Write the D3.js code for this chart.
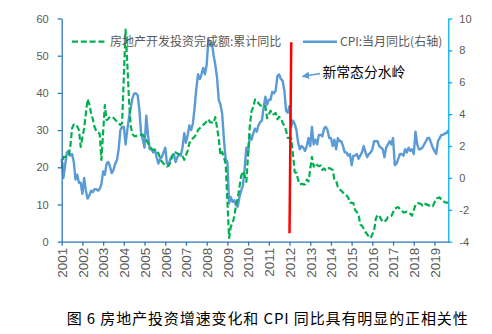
<!DOCTYPE html>
<html>
<head>
<meta charset="utf-8">
<script src="https://cdn.jsdelivr.net/npm/d3@7"></script>
<style>
  html, body { margin: 0; padding: 0; background: #fff; }
  svg { display: block; }
</style>
</head>
<body>
<svg id="chart" width="492" height="334"></svg>
<script>
// ---------- data ----------
const years = [2001,2002,2003,2004,2005,2006,2007,2008,2009,2010,2011,2012,2013,2014,2015,2016,2017,2018,2019];
const leftTicks = [0,10,20,30,40,50,60];
const rightTicks = [-4,-2,0,2,4,6,8,10];

// CPI: month-on-year-ago, Jan 2001 .. Sep 2019 (right axis)
const cpi = [
  1.2, 0.0, 0.8, 1.6, 1.7, 1.4, 1.5, 1.0,-0.1, 0.2,-0.3,-0.3,
 -1.0, 0.0,-0.8,-1.3,-1.1,-0.8,-0.9,-0.7,-0.7,-0.8,-0.7,-0.4,
  0.4, 0.2, 0.9, 1.0, 0.7, 0.3, 0.5, 0.9, 1.1, 1.8, 3.0, 3.2,
  3.2, 2.1, 3.0, 3.8, 4.4, 5.0, 5.3, 5.3, 5.2, 4.3, 2.8, 2.4,
  1.9, 3.9, 2.7, 1.8, 1.8, 1.6, 1.8, 1.3, 0.9, 1.2, 1.3, 1.6,
  1.9, 0.9, 0.8, 1.2, 1.4, 1.5, 1.0, 1.3, 1.5, 1.4, 1.9, 2.8,
  2.2, 2.7, 3.3, 3.0, 3.4, 4.4, 5.6, 6.5, 6.2, 6.5, 6.9, 6.5,
  7.1, 8.7, 8.3, 8.5, 7.7, 7.1, 6.3, 4.9, 4.6, 4.0, 2.4, 1.2,
  1.0,-1.6,-1.2,-1.5,-1.4,-1.7,-1.8,-1.2,-0.8,-0.5, 0.6, 1.9,
  1.5, 2.7, 2.4, 2.8, 3.1, 2.9, 3.3, 3.5, 3.6, 4.4, 5.1, 4.6,
  4.9, 4.9, 5.4, 5.3, 5.5, 6.4, 6.5, 6.2, 6.1, 5.5, 4.2, 4.1,
  4.5, 3.2, 3.6, 3.4, 3.0, 2.2, 1.8, 2.0, 1.9, 1.7, 2.0, 2.5,
  2.0, 3.2, 2.1, 2.4, 2.1, 2.7, 2.7, 2.6, 3.1, 3.2, 3.0, 2.5,
  2.5, 2.0, 2.4, 1.8, 2.5, 2.3, 2.3, 2.0, 1.6, 1.6, 1.4, 1.5,
  0.8, 1.4, 1.4, 1.5, 1.2, 1.4, 1.6, 2.0, 1.6, 1.3, 1.5, 1.6,
  1.8, 2.3, 2.3, 2.3, 2.0, 1.9, 1.8, 1.3, 1.9, 2.1, 2.3, 2.1,
  2.5, 0.8, 0.9, 1.2, 1.5, 1.5, 1.4, 1.8, 1.6, 1.9, 1.7, 1.8,
  1.5, 2.9, 2.1, 1.8, 1.8, 1.9, 2.1, 2.3, 2.5, 2.5, 2.2, 1.9,
  1.7, 1.5, 2.3, 2.5, 2.7, 2.7, 2.8, 2.8, 3.0
];

// Real-estate development investment, cumulative y/y (left axis); January not published
const reInvest = [
  19.7, 22.8, 22.8, 22.8, 23.0, 25.5, 30.5, 31.5, 31.6, 31.0, 30.0, 25.5,
  null, 30.5, 34.5, 38.3, 37.0, 34.6, 33.0, 30.9, 29.8, 29.3, 29.1, 22.0,
  null, 36.7, 32.7, 33.0, 33.6, 33.5, 33.3, 32.8, 32.3, 31.8, 31.4, 31.9,
  null, 57.0, 48.0, 38.0, 31.0, 29.0, 28.4, 28.4, 28.5, 28.5, 28.7, 28.8,
  null, 27.3, 26.5, 25.5, 25.0, 24.7, 24.5, 24.2, 23.8, 22.5, 21.5, 21.0,
  null, 20.2, 20.4, 21.5, 22.8, 24.1, 24.0, 23.7, 23.5, 23.3, 23.0, 22.0,
  null, 24.5, 26.5, 27.3, 27.8, 28.2, 29.0, 30.0, 30.5, 31.0, 31.4, 31.8,
  null, 32.9, 32.1, 32.1, 31.9, 33.5, 30.7, 27.7, 23.2, 24.1, 22.7, 20.9,
  null,  1.0,  4.1,  4.9,  6.8,  9.9, 11.6, 14.7, 17.7, 18.9, 17.8, 16.1,
  null, 31.1, 35.1, 36.2, 38.2, 38.1, 37.2, 36.7, 36.4, 36.5, 36.5, 33.2,
  null, 35.2, 34.1, 34.3, 34.6, 32.9, 33.6, 33.2, 32.0, 31.1, 29.9, 27.9,
  null, 27.8, 23.5, 18.7, 18.5, 16.6, 15.4, 15.6, 15.4, 15.4, 16.7, 16.2,
  null, 22.8, 20.2, 21.1, 20.6, 20.3, 20.5, 19.3, 19.7, 19.2, 19.5, 19.8,
  null, 19.3, 16.8, 16.4, 14.7, 14.1, 13.7, 13.2, 12.5, 12.4, 11.9, 10.5,
  null, 10.4,  8.5,  8.0,  7.2,  4.6,  4.3,  3.5,  2.6,  2.0,  1.3,  1.0,
  null,  3.0,  6.2,  7.2,  7.0,  6.1,  5.3,  5.4,  5.8,  6.6,  6.7,  6.9,
  null,  8.9,  9.1,  9.3,  8.8,  8.5,  7.9,  7.9,  8.1,  7.8,  7.5,  7.0,
  null,  9.9, 10.4, 10.3, 10.2,  9.7, 10.2, 10.1,  9.9,  9.7,  9.7,  9.5,
  null, 11.6, 11.8, 11.9, 11.2, 10.9, 10.6, 10.5, 10.5
];

const seriesNames = ["房地产开发投资完成额:累计同比", "CPI:当月同比(右轴)"];
const annotationText = "新常态分水岭";
const caption = "图 6 房地产投资增速变化和 CPI 同比具有明显的正相关性";
// red divider: [month index, left-axis value] at top and bottom
const dividerTop = [133, 53.6];
const dividerBottom = [132, 2.3];

// ---------- layout ----------
const svg = d3.select("#chart");
const X0 = 61.7, X1 = 448.3, Y0 = 241.7, Y1 = 18.5;
const nMonths = cpi.length; // 225
const x = d3.scaleLinear().domain([0, nMonths - 1]).range([X0, X1]);
const yL = d3.scaleLinear().domain([0, 60]).range([Y0, Y1]);
const yR = d3.scaleLinear().domain([-4, 10]).range([Y0, Y1]);

const numFont = "'Liberation Sans', Arial, sans-serif";
const cjkFont = "'Noto Sans CJK SC', 'Noto Sans', sans-serif";
const labelColor = "#595959";

// ---------- series ----------
const reData = reInvest.map((v, i) => ({i, v})).filter(d => d.v !== null);
const cpiData = cpi.map((v, i) => ({i, v}));

svg.append("path")
  .datum(cpiData)
  .attr("fill", "none")
  .attr("stroke", "#5b9bd5")
  .attr("stroke-width", 2.4)
  .attr("stroke-linejoin", "round")
  .attr("d", d3.line().x(d => x(d.i)).y(d => yR(d.v)));

svg.append("path")
  .datum(reData)
  .attr("fill", "none")
  .attr("stroke", "#00b050")
  .attr("stroke-width", 2.2)
  .attr("stroke-dasharray", "6,2.8")
  .attr("stroke-linejoin", "round")
  .attr("d", d3.line().x(d => x(d.i)).y(d => yL(d.v)));

// ---------- axes ----------
const gL = svg.append("g").attr("transform", `translate(${X0},0)`)
  .call(d3.axisLeft(yL).tickValues(leftTicks).tickSize(4).tickPadding(9).tickSizeOuter(0));
gL.select(".domain").attr("stroke", "#2e75b6").attr("stroke-width", 1.3);
gL.selectAll(".tick line").attr("stroke", "#2e75b6").attr("stroke-width", 1.3);
gL.selectAll(".tick text").attr("fill", labelColor).style("font-family", numFont).style("font-size", "11px");

const gR = svg.append("g").attr("transform", `translate(${X1},0)`)
  .call(d3.axisRight(yR).tickValues(rightTicks).tickSize(4).tickPadding(7).tickSizeOuter(0)
    .tickFormat(d => String(d)));
gR.select(".domain").attr("stroke", "#00b0f0").attr("stroke-width", 1.3);
gR.selectAll(".tick line").attr("stroke", "#00b0f0").attr("stroke-width", 1.3);
gR.selectAll(".tick text").attr("fill", labelColor).style("font-family", numFont).style("font-size", "11px");

const yearIdx = years.map((y, k) => k * 12);
const gB = svg.append("g").attr("transform", `translate(0,${Y0})`)
  .call(d3.axisBottom(x).tickValues(yearIdx).tickSize(4).tickSizeOuter(0)
    .tickFormat((d, k) => String(years[k])));
gB.select(".domain").attr("stroke", "#2e75b6").attr("stroke-width", 1.3);
gB.selectAll(".tick line").attr("stroke", "#2e75b6").attr("stroke-width", 1.3);
gB.selectAll(".tick text")
  .attr("fill", labelColor)
  .style("font-family", numFont).style("font-size", "13.5px")
  .attr("text-anchor", "end")
  .attr("transform", "rotate(-90)")
  .attr("x", -6).attr("y", 0).attr("dy", "0.36em");

// ---------- legend ----------
svg.append("line").attr("x1", 72).attr("x2", 107).attr("y1", 41.7).attr("y2", 41.7)
  .attr("stroke", "#00b050").attr("stroke-width", 2.2).attr("stroke-dasharray", "6,2.8");
svg.append("text").attr("x", 110).attr("y", 46).text(seriesNames[0])
  .attr("fill", labelColor).style("font-family", cjkFont).style("font-size", "12px");
svg.append("line").attr("x1", 303).attr("x2", 337).attr("y1", 41.7).attr("y2", 41.7)
  .attr("stroke", "#5b9bd5").attr("stroke-width", 2.4);
svg.append("text").attr("x", 340).attr("y", 46).text(seriesNames[1])
  .attr("fill", labelColor).style("font-family", cjkFont).style("font-size", "12px");

// ---------- annotation ----------
svg.append("line")
  .attr("x1", x(dividerTop[0])).attr("y1", yL(dividerTop[1]))
  .attr("x2", x(dividerBottom[0])).attr("y2", yL(dividerBottom[1]))
  .attr("stroke", "#ff0000").attr("stroke-width", 2.5);

const defs = svg.append("defs");
defs.append("marker").attr("id", "ah").attr("viewBox", "0 0 10 10")
  .attr("refX", 9).attr("refY", 5).attr("markerWidth", 5).attr("markerHeight", 5)
  .attr("orient", "auto")
  .append("path").attr("d", "M0,0 L10,5 L0,10 Z").attr("fill", "#5b9bd5");
svg.append("line").attr("x1", 320).attr("y1", 73.6).attr("x2", 302.5).attr("y2", 76.4)
  .attr("stroke", "#5b9bd5").attr("stroke-width", 1.5).attr("marker-end", "url(#ah)");
svg.append("text").attr("x", 322.5).attr("y", 76.5).text(annotationText)
  .attr("fill", "#000").style("font-family", cjkFont).style("font-size", "13.8px");

// ---------- caption ----------
svg.append("text").attr("x", 66.7).attr("y", 323.5).text(caption)
  .attr("fill", "#000").style("font-family", cjkFont).style("font-size", "15px")
  .attr("textLength", 401).attr("lengthAdjust", "spacing");
</script>
</body>
</html>
